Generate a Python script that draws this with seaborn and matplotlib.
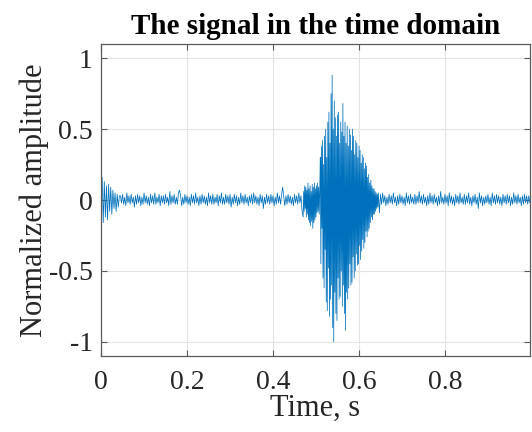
import numpy as np
import pandas as pd
import matplotlib
matplotlib.use("Agg")
import matplotlib.pyplot as plt
import seaborn as sns

dt_slow = 0.0025
dt_fast = 0.00125

# amplitudes in hundredths of full scale
lead_in = [2, 16, -16, 13, -12, 10, -14, 11, -8, 9, -10, 7, -6, 5, -8, 4, -5, 3]

quiet_1 = [
    3, -2, 4, -3, 2, -4, 5, -2, 3, -3, 4, -2, 2, -5, 3, -3, 4, -2, 3, -4,
    2, -3, 5, -2, 3, -3, 2, -4, 4, -2, 3, -3, 5, -3, 2, -2, 4, -4, 3, -2,
    3, -3, 4, -2, 2, -4, 6, -3, 3, -2, 4, -3, 2, -3, 5, 7, 3, -4, 2, -3,
    4, -2, 3, -3, 2, -4, 4, -2, 3, -3, 5, -2, 2, -4, 3, -3, 4, -2, 3, -3,
    2, -4, 5, -2, 3, -3, 4, -3, 2, -2, 4, -4, 3, -2, 5, -3, 2, -3, 4, -2,
    3, -3, 4, -5, 2, -3, 4, -2, 3, -4, 2, -3, 5, -2, 3, -3, 4, -2, 2, -4,
    3, -2, 4, -3, 5, -2, 3, -3, 2, -4, 4, -2, 3, -6, 2, -3, 4, -2, 3, -3,
    4, -2, 3, -4, 2, -3, 5, -2, 3, -3, 4, 9, 2, -4, 3, -3, 4, -2, 3, -3,
    2, -4, 4, -2, 3, -3, 5, -2, 3, -8,
]

pre_burst = [
    -12, 6, -8, 10, -6, 9, -12, 7, -10, 12, -14, 8, -16, 10, -18, 6,
    -15, 11, -20, 9, -16, 12, -14, 8, -12, 10, -9, 12, -8, 9, -10, 8,
]

burst = [
    30, -45, 38, -20, 42, -55, 25, -62, 45, -35,
    50, -72, 30, -78, 55, -48, 62, -82, 40, -70,
    75, -60, 88, -90, 50, -100, 70, -65, 58, -80,
    45, -85, 60, -55, 62, -70, 40, -68, 55, -50,
    48, -75, 68, -60, 45, -80, 55, -92, 40, -65,
    52, -70, 38, -62, 50, -45, 46, -60, 35, -58,
    50, -40, 45, -55, 32, -50, 42, -38, 40, -46,
    30, -45, 38, -32, 35, -42, 26, -36, 32, -28,
    30, -34, 22, -30, 26, -22, 24, -26, 16, -22,
    18, -20, 12, -16, 14, -12, 10, -14, 8, -10,
    8, -10, 6, -8, 5, -6, 4, -5,
]

quiet_2 = [
    5, -9, 4, -3, 5, -2, 3, -4, 2, -3, 4, -2, 3, -3, 5, -2, 2, -4, 3, -3,
    4, -2, 3, -3, 2, -4, 5, -2, 3, -3, 4, -2, 2, -3, 4, -3, 3, -2, 6, -2,
    3, -3, 4, -2, 2, -4, 3, -3, 5, -2, 3, -3, 4, -2, 2, -4, 3, -3, 6, -2,
    2, -3, 4, -2, 3, -4, 5, -2, 3, -3, 2, -4, 4, -2, 3, -3, 5, -2, 2, -3,
    4, -3, 3, -2, 5, -3, 2, -4, 3, -2, 4, -3, 2, -6, 5, -2, 3, -4, 2, -3,
    3, -2, 4, -3, 2, -4, 5, -2, 3, -3, 4, -2, 3, -3, 2, -4, 4, -2, 3, -3,
    4, -2, 3, -4, 2, -3, 5, -2, 3, -3, 4, -2, 2, -4, 3, -3, 4, -2, 3, -3,
    3, -2,
]

# segment start times (s)
seg_starts = [0.0, 0.47, 0.51, 0.645]

x_ticks = [0, 0.2, 0.4, 0.6, 0.8]
x_tick_labels = ["0", "0.2", "0.4", "0.6", "0.8"]
y_ticks = [-1, -0.5, 0, 0.5, 1]
y_tick_labels = ["-1", "-0.5", "0", "0.5", "1"]

segments = [
    (lead_in + quiet_1, seg_starts[0], dt_slow),
    (pre_burst, seg_starts[1], dt_fast),
    (burst, seg_starts[2], dt_fast),
    (quiet_2, seg_starts[3], dt_slow),
]
t = np.concatenate([s0 + np.arange(len(v)) * d for v, s0, d in segments])
amp = np.concatenate([np.array(v, dtype=float) for v, _, _ in segments]) / 100.0
df = pd.DataFrame({"t": t, "amp": amp})

sns.set_theme(style="whitegrid")
plt.rcParams["font.family"] = ["Liberation Serif", "DejaVu Serif"]
plt.rcParams["axes.unicode_minus"] = False

fig = plt.figure(figsize=(5.32, 4.32), dpi=100)
ax = fig.add_axes([0.19, 0.176, 0.806, 0.722])

sns.lineplot(data=df, x="t", y="amp", ax=ax, color="#0072BD",
             linewidth=0.55, estimator=None, sort=False)

ax.set_xlim(0, 0.9975)
ax.set_ylim(-1.1, 1.1)
ax.set_xticks(x_ticks)
ax.set_xticklabels(x_tick_labels)
ax.set_yticks(y_ticks)
ax.set_yticklabels(y_tick_labels)

ax.grid(True, color="#e3e3e3", linewidth=0.8)
ax.set_facecolor("white")
for s in ax.spines.values():
    s.set_visible(True)
    s.set_color("#5a5a5a")
    s.set_linewidth(0.9)

ax.tick_params(axis="both", which="both", direction="in", length=4,
               width=0.8, color="#5a5a5a", labelsize=20, labelcolor="#262626",
               top=True, right=True, bottom=True, left=True)
ax.tick_params(axis="x", pad=10)
ax.tick_params(axis="y", pad=6)

ax.set_xlabel("Time, s", fontsize=22, color="#262626", labelpad=-1)
ax.set_ylabel("Normalized amplitude", fontsize=22, color="#262626", labelpad=0)
ax.set_title("The signal in the time domain", fontsize=21, fontweight="bold",
             color="black", pad=7)

fig.savefig("out.png", dpi=100)
